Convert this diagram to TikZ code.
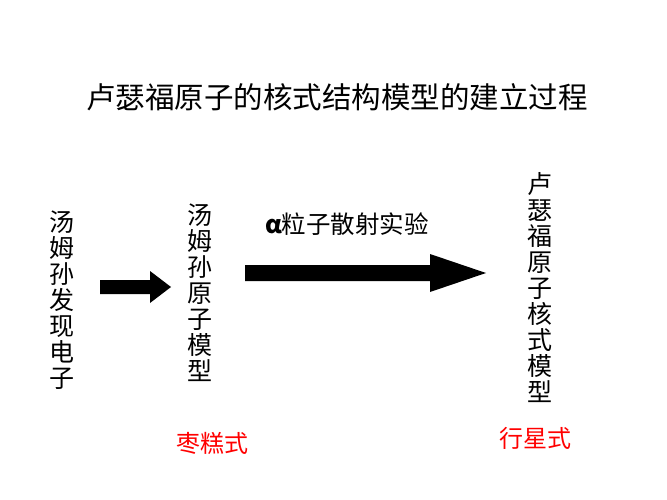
\documentclass[tikz,border=0pt]{standalone}
\usepackage{fontspec}
\setmainfont{Noto Sans CJK SC}
\usetikzlibrary{positioning}
\tikzset{
  column/.style={align=center, font=\fontsize{25}{26}\selectfont, inner sep=0pt},
  model/.style={text=red, font=\fontsize{24}{26}\selectfont, inner sep=0pt},
  blockarrow/.style={fill=black, draw=none}
}

\begin{document}
\begin{tikzpicture}[x=1pt,y=-1pt]
  \useasboundingbox (0,0) rectangle (667,500);

  \node[font=\fontsize{29.5}{32}\selectfont, inner sep=0pt] (title) at (337,97) {卢瑟福原子的核式结构模型的建立过程};

  \node[column] (electron) at (62,300) {汤\\姆\\孙\\发\\现\\电\\子};
  \node[column] (thomson) at (200,293) {汤\\姆\\孙\\原\\子\\模\\型};
  \node[column] (rutherford) at (540,288) {卢\\瑟\\福\\原\\子\\核\\式\\模\\型};

  % arrows
  \fill[blockarrow] (100,280) -- (150,280) -- (150,271) -- (171,287) -- (150,303) -- (150,294) -- (100,294) -- cycle;
  \fill[blockarrow] (245,265) -- (430,265) -- (430,254) -- (486,273) -- (430,292) -- (430,281) -- (245,281) -- cycle;

  \node[font=\fontsize{24.5}{26}\selectfont, inner sep=0pt] (alpha) at (347,224) {\textbf{α}粒子散射实验};

  \node[model] (plum) at (212,443) {枣糕式};
  \node[model] (planet) at (535,438) {行星式};
\end{tikzpicture}
\end{document}
